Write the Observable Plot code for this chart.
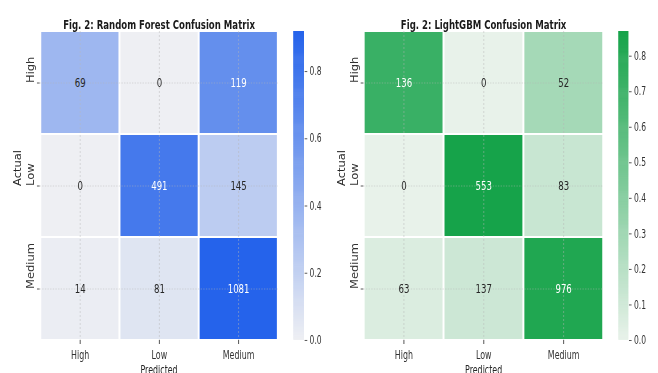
<!DOCTYPE html>
<html>
<head>
<meta charset="utf-8">
<script src="https://cdn.jsdelivr.net/npm/d3@7"></script>
<script src="https://cdn.jsdelivr.net/npm/@observablehq/plot@0.6"></script>
<style>
  html, body { margin: 0; padding: 0; background: #fff; overflow: hidden; }
  #fig {
    position: relative; width: 997px; height: 373px;
    transform: scaleX(0.66); transform-origin: 0 0;
    font-family: "DejaVu Sans", sans-serif;
  }
  #fig > svg { position: absolute; top: 0; }
</style>
</head>
<body>
<div id="fig"></div>
<script>
// Class labels shared by both confusion matrices (rows = actual, columns = predicted)
const classes = ["High", "Low", "Medium"];

// Raw counts per actual class
const rfCounts = [
  [69, 0, 119],
  [0, 491, 145],
  [14, 81, 1081]
];
const lgbmCounts = [
  [136, 0, 52],
  [0, 553, 83],
  [63, 137, 976]
];

// Colorbar tick values
const rfTicks = [0, 0.2, 0.4, 0.6, 0.8];
const lgbmTicks = [0, 0.1, 0.2, 0.3, 0.4, 0.5, 0.6, 0.7, 0.8];

const rfTitle = "Fig. 2: Random Forest Confusion Matrix";
const lgbmTitle = "Fig. 2: LightGBM Confusion Matrix";

// Light-to-full palettes
const rfColors = ["#eeeff3", "#2563eb"];
const lgbmColors = ["#e8f2ea", "#16a34a"];

// The figure is drawn wide and compressed horizontally; vertical labels get part of their width back
const squeeze = 0.66;
const verticalWiden = 1.3;

// Cells coloured by the row-normalised share, annotated with the raw count
function toCells(counts) {
  return counts.flatMap((row, i) => {
    const total = d3.sum(row);
    return row.map((n, j) => ({actual: classes[i], predicted: classes[j], count: n, share: n / total}));
  });
}

function luminance(color) {
  const c = d3.rgb(color);
  const lin = v => { v /= 255; return v <= 0.03928 ? v / 12.92 : Math.pow((v + 0.055) / 1.055, 2.4); };
  return 0.2126 * lin(c.r) + 0.7152 * lin(c.g) + 0.0722 * lin(c.b);
}

function heatmap({counts, colors, title, width, marginLeft}) {
  const cells = toCells(counts);
  const vmax = d3.max(cells, d => d.share);
  const ramp = d3.interpolateRgb(colors[0], colors[1]);
  const isLight = d => luminance(ramp(d.share / vmax)) > 0.408;
  const grid = {stroke: "#b5b5b5", strokeOpacity: 0.7, strokeWidth: 0.8, strokeDasharray: "2,2"};
  const svg = Plot.plot({
    width, height: 373,
    marginLeft, marginRight: 4, marginTop: 31, marginBottom: 33,
    style: {fontFamily: "DejaVu Sans", color: "#333", background: "transparent", overflow: "visible"},
    x: {domain: classes, padding: 0},
    y: {domain: classes, padding: 0},
    color: {type: "linear", domain: [0, vmax], range: colors, interpolate: "rgb"},
    marks: [
      Plot.cell(cells, {x: "predicted", y: "actual", fill: "share",
        insetLeft: 1.5, insetRight: 1.5, insetTop: 1, insetBottom: 1}),
      Plot.ruleX(classes, {x: d => d, ...grid}),
      Plot.ruleY(classes, {y: d => d, ...grid}),
      Plot.text(cells.filter(isLight), {x: "predicted", y: "actual", text: d => String(d.count), fill: "#262626", fontSize: 13}),
      Plot.text(cells.filter(d => !isLight(d)), {x: "predicted", y: "actual", text: d => String(d.count), fill: "#ffffff", fontSize: 13}),
      Plot.axisX({tickSize: 4, tickPadding: 6, fontSize: 12, label: null}),
      Plot.axisY({tickSize: 4, tickFormat: () => "", label: null}),
      Plot.text(classes, {y: d => d, frameAnchor: "left", dx: -14, rotate: -90, fontSize: 11.5, fill: "#333"}),
      Plot.text(["Actual"], {frameAnchor: "left", dx: -33, rotate: -90, fontSize: 11.5, fill: "#262626"}),
      Plot.text(["Predicted"], {frameAnchor: "bottom", dy: 25, lineAnchor: "top", fontSize: 12, fill: "#262626"}),
      Plot.text([title], {frameAnchor: "top", dy: -11.8, fontSize: 13, fontWeight: "bold", fill: "#1a1a1a"})
    ]
  });
  // widen the vertical labels a little so the horizontal compression does not thin them as much
  d3.select(svg).selectAll("text")
    .filter(function () { return /rotate\(-90\)/.test(this.getAttribute("transform") || ""); })
    .attr("transform", function () { return this.getAttribute("transform") + ` scale(1,${verticalWiden})`; });
  return {svg, vmax};
}

function colorbar({vmax, colors, ticks, marginLeft, barWidth}) {
  const n = 300;
  const step = vmax / n;
  const stops = d3.range(n).map(i => i * step);
  return Plot.plot({
    width: marginLeft + barWidth + 40, height: 373,
    marginLeft, marginRight: 40, marginTop: 31, marginBottom: 33,
    style: {fontFamily: "DejaVu Sans", color: "#333", background: "transparent", overflow: "visible"},
    x: {domain: [0, 1], axis: null},
    y: {domain: [0, vmax]},
    color: {type: "linear", domain: [0, vmax], range: colors, interpolate: "rgb"},
    marks: [
      Plot.rect(stops, {x1: 0, x2: 1, y1: d => d, y2: d => Math.min(vmax, d + step * 1.6), fill: d => d + step / 2}),
      Plot.axisY({anchor: "right", ticks, tickFormat: ".1f", tickSize: 4, tickPadding: 4, fontSize: 11.5, label: null})
    ]
  });
}

const fig = document.getElementById("fig");

const rf = heatmap({counts: rfCounts, colors: rfColors, title: rfTitle, width: 425, marginLeft: 60});
rf.svg.style.left = "0px";
fig.appendChild(rf.svg);

const rfBar = colorbar({vmax: rf.vmax, colors: rfColors, ticks: rfTicks, marginLeft: 4.4, barWidth: 16.2});
rfBar.style.left = "440px";
fig.appendChild(rfBar);

const lgbm = heatmap({counts: lgbmCounts, colors: lgbmColors, title: lgbmTitle, width: 428, marginLeft: 60.5});
lgbm.svg.style.left = "490px";
fig.appendChild(lgbm.svg);

const lgbmBar = colorbar({vmax: lgbm.vmax, colors: lgbmColors, ticks: lgbmTicks, marginLeft: 4.9, barWidth: 15.1});
lgbmBar.style.left = "932px";
fig.appendChild(lgbmBar);
</script>
</body>
</html>
